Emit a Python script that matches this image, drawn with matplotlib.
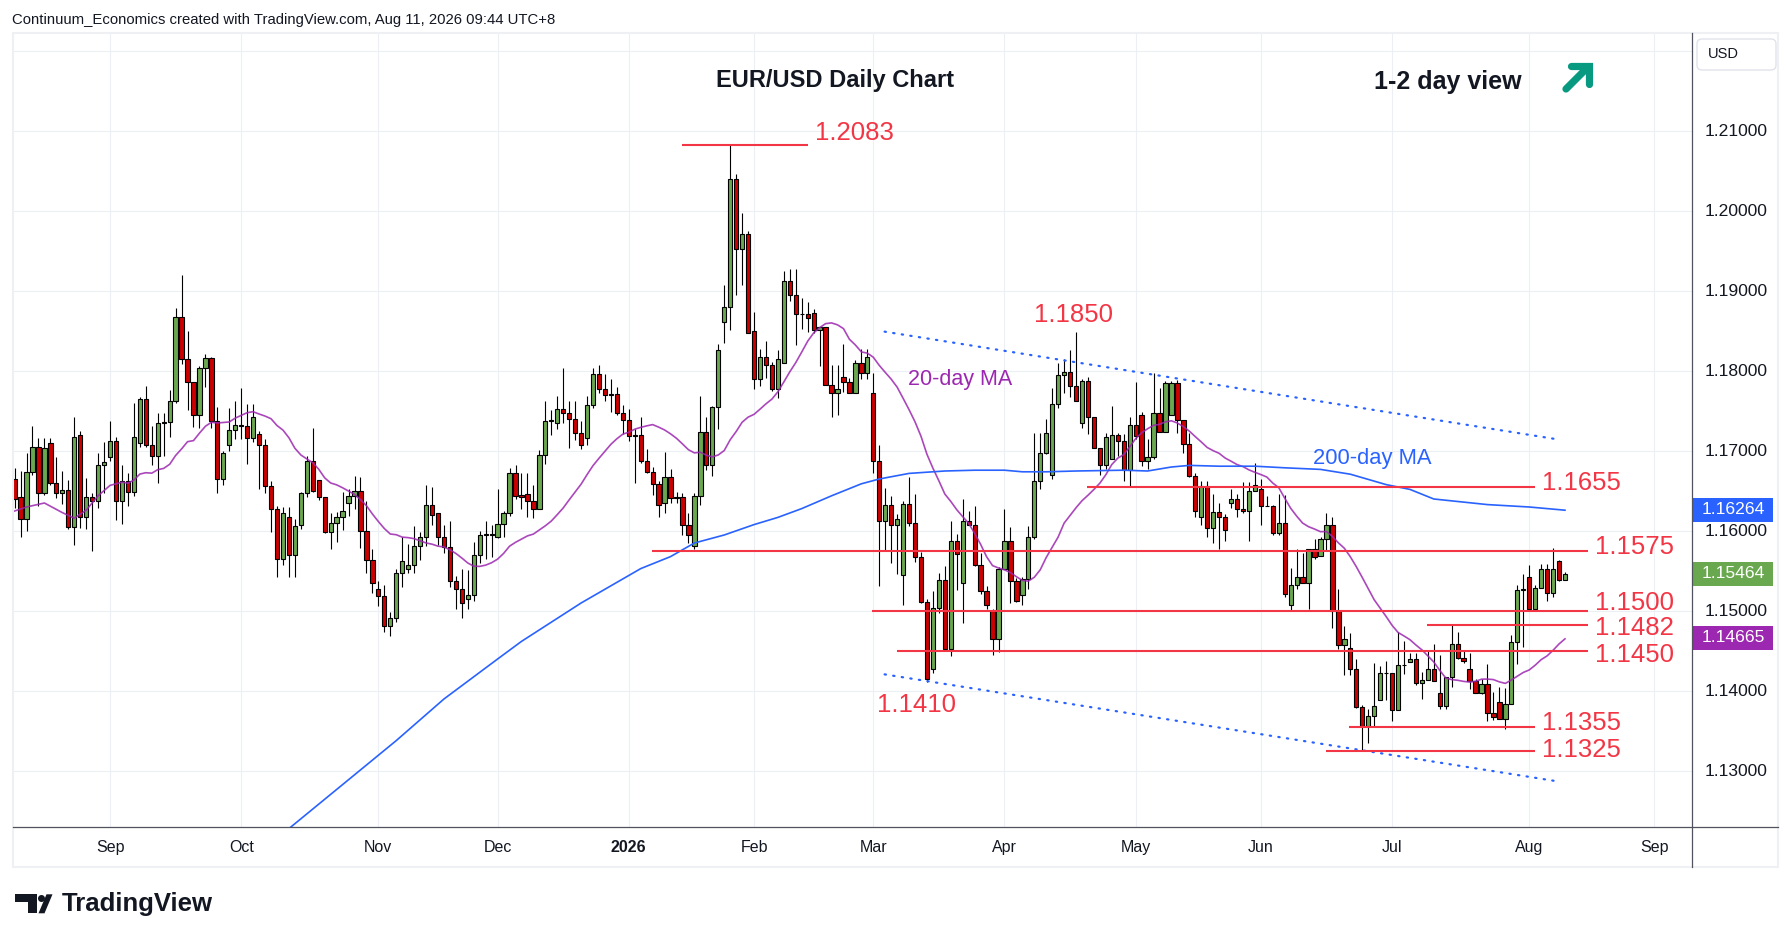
import numpy as np
import pandas as pd
import matplotlib
matplotlib.use('Agg')
import matplotlib.pyplot as plt
import matplotlib.transforms as mtransforms
from matplotlib.patches import Rectangle, FancyBboxPatch, Polygon, Circle
from matplotlib.lines import Line2D

plt.rcParams['font.family'] = ['Liberation Sans', 'DejaVu Sans']

# ---------------- data ----------------
first_day = '2025-08-08'
fx_holidays = ['2025-12-25', '2026-01-01']

opens = [
    1.1665, 1.1642, 1.1615, 1.1674, 1.1705, 1.1648, 1.1710, 1.1660, 1.1647, 1.1651,
    1.1605, 1.1720, 1.1618, 1.1643, 1.1638, 1.1683, 1.1693, 1.1712, 1.1637, 1.1662,
    1.1649, 1.1710, 1.1765, 1.1708, 1.1694, 1.1735, 1.1736, 1.1762, 1.1868, 1.1815,
    1.1786, 1.1745, 1.1804, 1.1816, 1.1737, 1.1665, 1.1707, 1.1726, 1.1733, 1.1731,
    1.1716, 1.1721, 1.1708, 1.1656, 1.1628, 1.1565, 1.1618, 1.1570, 1.1607, 1.1647,
    1.1687, 1.1664, 1.1642, 1.1599, 1.1610, 1.1618, 1.1635, 1.1644, 1.1650, 1.1600,
    1.1564, 1.1528, 1.1519, 1.1481, 1.1491, 1.1547, 1.1553, 1.1557, 1.1581, 1.1593,
    1.1633, 1.1623, 1.1592, 1.1580, 1.1537, 1.1528, 1.1515, 1.1520, 1.1570, 1.1595,
    1.1596, 1.1592, 1.1609, 1.1623, 1.1672, 1.1645, 1.1646, 1.1637, 1.1627, 1.1695,
    1.1738, 1.1735, 1.1753, 1.1747, 1.1740, 1.1722, 1.1716, 1.1758, 1.1796, 1.1778,
    1.1770, 1.1771, 1.1747, 1.1739, 1.1719, 1.1720, 1.1688, 1.1674, 1.1659, 1.1635,
    1.1667, 1.1643, 1.1643, 1.1607, 1.1581, 1.1644, 1.1724, 1.1682, 1.1755, 1.1861,
    1.1880, 1.2040, 1.1953, 1.1971, 1.1850, 1.1790, 1.1817, 1.1808, 1.1777, 1.1810,
    1.1913, 1.1895, 1.1871, 1.1871, 1.1873, 1.1851, 1.1855, 1.1783, 1.1773, 1.1793,
    1.1786, 1.1773, 1.1810, 1.1798, 1.1772, 1.1688, 1.1613, 1.1633, 1.1608, 1.1545,
    1.1634, 1.1610, 1.1567, 1.1511, 1.1427, 1.1504, 1.1539, 1.1452, 1.1588, 1.1535,
    1.1612, 1.1607, 1.1558, 1.1525, 1.1500, 1.1465, 1.1553, 1.1588, 1.1538, 1.1520,
    1.1540, 1.1593, 1.1663, 1.1698, 1.1670, 1.1759, 1.1795, 1.1799, 1.1781, 1.1735,
    1.1788, 1.1743, 1.1704, 1.1683, 1.1690, 1.1720, 1.1712, 1.1676, 1.1732, 1.1745,
    1.1687, 1.1693, 1.1748, 1.1724, 1.1745, 1.1785, 1.1739, 1.1709, 1.1669, 1.1618,
    1.1656, 1.1604, 1.1624, 1.1617, 1.1635, 1.1640, 1.1628, 1.1625, 1.1650, 1.1653,
    1.1631, 1.1631, 1.1597, 1.1610, 1.1508, 1.1533, 1.1543, 1.1535, 1.1578, 1.1569,
    1.1590, 1.1608, 1.1500, 1.1458, 1.1454, 1.1428, 1.1380, 1.1356, 1.1369, 1.1389,
    1.1422, 1.1422, 1.1376, 1.1432, 1.1436, 1.1440, 1.1410, 1.1414, 1.1428, 1.1398,
    1.1381, 1.1418, 1.1459, 1.1441, 1.1427, 1.1413, 1.1397, 1.1409, 1.1372, 1.1386,
    1.1365, 1.1384, 1.1461, 1.1526, 1.1543, 1.1503, 1.1529, 1.1552, 1.1523, 1.1562,
    1.1539]

highs = [
    1.1679, 1.1675, 1.1698, 1.1731, 1.1716, 1.1716, 1.1716, 1.1693, 1.1675, 1.1664,
    1.1743, 1.1725, 1.1666, 1.1648, 1.1698, 1.1711, 1.1737, 1.1718, 1.1682, 1.1673,
    1.1760, 1.1767, 1.1781, 1.1731, 1.1747, 1.1748, 1.1776, 1.1879, 1.1920, 1.1850,
    1.1786, 1.1806, 1.1821, 1.1818, 1.1755, 1.1700, 1.1754, 1.1762, 1.1779, 1.1759,
    1.1759, 1.1725, 1.1715, 1.1662, 1.1631, 1.1630, 1.1630, 1.1615, 1.1649, 1.1694,
    1.1729, 1.1664, 1.1643, 1.1623, 1.1624, 1.1649, 1.1652, 1.1669, 1.1667, 1.1637,
    1.1577, 1.1537, 1.1533, 1.1499, 1.1552, 1.1592, 1.1584, 1.1606, 1.1599, 1.1657,
    1.1655, 1.1623, 1.1608, 1.1613, 1.1544, 1.1553, 1.1551, 1.1586, 1.1600, 1.1612,
    1.1608, 1.1653, 1.1625, 1.1679, 1.1682, 1.1672, 1.1672, 1.1657, 1.1701, 1.1763,
    1.1751, 1.1769, 1.1804, 1.1763, 1.1763, 1.1738, 1.1769, 1.1804, 1.1807, 1.1796,
    1.1790, 1.1780, 1.1758, 1.1753, 1.1727, 1.1742, 1.1703, 1.1680, 1.1662, 1.1699,
    1.1678, 1.1649, 1.1647, 1.1622, 1.1648, 1.1769, 1.1743, 1.1756, 1.1834, 1.1907,
    1.2084, 1.2046, 1.1997, 1.1975, 1.1874, 1.1828, 1.1837, 1.1811, 1.1826, 1.1925,
    1.1928, 1.1928, 1.1891, 1.1886, 1.1877, 1.1855, 1.1855, 1.1807, 1.1807, 1.1834,
    1.1791, 1.1814, 1.1827, 1.1828, 1.1797, 1.1708, 1.1654, 1.1644, 1.1621, 1.1638,
    1.1668, 1.1646, 1.1574, 1.1515, 1.1525, 1.1547, 1.1556, 1.1612, 1.1596, 1.1640,
    1.1625, 1.1631, 1.1573, 1.1531, 1.1502, 1.1555, 1.1627, 1.1605, 1.1541, 1.1543,
    1.1606, 1.1722, 1.1722, 1.1740, 1.1779, 1.1810, 1.1815, 1.1826, 1.1849, 1.1790,
    1.1792, 1.1743, 1.1704, 1.1722, 1.1756, 1.1722, 1.1721, 1.1743, 1.1786, 1.1749,
    1.1715, 1.1797, 1.1779, 1.1788, 1.1788, 1.1789, 1.1739, 1.1722, 1.1673, 1.1663,
    1.1663, 1.1646, 1.1635, 1.1621, 1.1653, 1.1646, 1.1661, 1.1661, 1.1685, 1.1665,
    1.1644, 1.1633, 1.1646, 1.1645, 1.1554, 1.1578, 1.1573, 1.1578, 1.1590, 1.1592,
    1.1622, 1.1617, 1.1528, 1.1481, 1.1473, 1.1440, 1.1383, 1.1377, 1.1435, 1.1431,
    1.1437, 1.1422, 1.1474, 1.1463, 1.1447, 1.1448, 1.1424, 1.1451, 1.1459, 1.1445,
    1.1418, 1.1482, 1.1474, 1.1451, 1.1448, 1.1415, 1.1415, 1.1434, 1.1399, 1.1405,
    1.1404, 1.1470, 1.1532, 1.1546, 1.1558, 1.1532, 1.1559, 1.1559, 1.1579, 1.1564,
    1.1549]

lows = [
    1.1629, 1.1592, 1.1600, 1.1670, 1.1631, 1.1645, 1.1657, 1.1641, 1.1634, 1.1603,
    1.1583, 1.1604, 1.1603, 1.1575, 1.1629, 1.1648, 1.1687, 1.1614, 1.1609, 1.1631,
    1.1644, 1.1705, 1.1705, 1.1683, 1.1660, 1.1694, 1.1718, 1.1760, 1.1809, 1.1751,
    1.1730, 1.1729, 1.1780, 1.1729, 1.1647, 1.1657, 1.1700, 1.1715, 1.1715, 1.1684,
    1.1711, 1.1652, 1.1648, 1.1599, 1.1542, 1.1557, 1.1542, 1.1543, 1.1602, 1.1642,
    1.1649, 1.1639, 1.1598, 1.1577, 1.1586, 1.1601, 1.1619, 1.1627, 1.1579, 1.1548,
    1.1523, 1.1506, 1.1474, 1.1469, 1.1486, 1.1530, 1.1548, 1.1548, 1.1564, 1.1581,
    1.1608, 1.1583, 1.1573, 1.1530, 1.1503, 1.1491, 1.1503, 1.1512, 1.1560, 1.1565,
    1.1568, 1.1591, 1.1593, 1.1619, 1.1640, 1.1627, 1.1618, 1.1616, 1.1627, 1.1684,
    1.1720, 1.1728, 1.1735, 1.1704, 1.1714, 1.1703, 1.1707, 1.1754, 1.1773, 1.1762,
    1.1749, 1.1745, 1.1721, 1.1713, 1.1660, 1.1685, 1.1673, 1.1645, 1.1618, 1.1622,
    1.1635, 1.1635, 1.1595, 1.1585, 1.1577, 1.1633, 1.1676, 1.1669, 1.1728, 1.1835,
    1.1851, 1.1895, 1.1907, 1.1847, 1.1778, 1.1781, 1.1791, 1.1775, 1.1766, 1.1810,
    1.1887, 1.1833, 1.1853, 1.1849, 1.1847, 1.1806, 1.1783, 1.1743, 1.1745, 1.1774,
    1.1773, 1.1773, 1.1790, 1.1790, 1.1673, 1.1531, 1.1575, 1.1560, 1.1546, 1.1508,
    1.1606, 1.1561, 1.1510, 1.1411, 1.1422, 1.1498, 1.1450, 1.1444, 1.1526, 1.1485,
    1.1607, 1.1556, 1.1521, 1.1502, 1.1445, 1.1449, 1.1553, 1.1510, 1.1511, 1.1508,
    1.1527, 1.1590, 1.1652, 1.1696, 1.1665, 1.1754, 1.1773, 1.1767, 1.1763, 1.1729,
    1.1721, 1.1704, 1.1670, 1.1677, 1.1690, 1.1694, 1.1663, 1.1656, 1.1715, 1.1681,
    1.1678, 1.1690, 1.1724, 1.1724, 1.1745, 1.1723, 1.1697, 1.1667, 1.1618, 1.1608,
    1.1593, 1.1585, 1.1577, 1.1588, 1.1629, 1.1618, 1.1623, 1.1588, 1.1650, 1.1608,
    1.1631, 1.1595, 1.1595, 1.1518, 1.1500, 1.1528, 1.1535, 1.1503, 1.1565, 1.1569,
    1.1575, 1.1479, 1.1452, 1.1420, 1.1420, 1.1379, 1.1326, 1.1335, 1.1356, 1.1389,
    1.1389, 1.1363, 1.1376, 1.1421, 1.1436, 1.1407, 1.1390, 1.1414, 1.1412, 1.1377,
    1.1378, 1.1405, 1.1440, 1.1435, 1.1403, 1.1397, 1.1396, 1.1363, 1.1364, 1.1365,
    1.1353, 1.1384, 1.1434, 1.1455, 1.1500, 1.1501, 1.1529, 1.1513, 1.1518, 1.1538,
    1.1539]

closes = [
    1.1640, 1.1615, 1.1674, 1.1705, 1.1648, 1.1704, 1.1660, 1.1647, 1.1651, 1.1605,
    1.1718, 1.1618, 1.1643, 1.1638, 1.1683, 1.1686, 1.1712, 1.1637, 1.1662, 1.1649,
    1.1718, 1.1765, 1.1708, 1.1694, 1.1735, 1.1736, 1.1762, 1.1868, 1.1815, 1.1786,
    1.1745, 1.1804, 1.1816, 1.1737, 1.1665, 1.1698, 1.1726, 1.1733, 1.1731, 1.1716,
    1.1742, 1.1708, 1.1656, 1.1628, 1.1565, 1.1622, 1.1570, 1.1606, 1.1647, 1.1687,
    1.1650, 1.1642, 1.1599, 1.1610, 1.1618, 1.1625, 1.1644, 1.1650, 1.1600, 1.1564,
    1.1535, 1.1519, 1.1481, 1.1491, 1.1547, 1.1562, 1.1557, 1.1581, 1.1593, 1.1633,
    1.1620, 1.1592, 1.1580, 1.1537, 1.1528, 1.1510, 1.1520, 1.1570, 1.1595, 1.1596,
    1.1595, 1.1609, 1.1623, 1.1672, 1.1644, 1.1642, 1.1637, 1.1627, 1.1695, 1.1738,
    1.1738, 1.1753, 1.1747, 1.1740, 1.1723, 1.1707, 1.1758, 1.1796, 1.1778, 1.1770,
    1.1771, 1.1747, 1.1739, 1.1719, 1.1720, 1.1688, 1.1674, 1.1659, 1.1632, 1.1667,
    1.1641, 1.1641, 1.1607, 1.1595, 1.1644, 1.1724, 1.1682, 1.1755, 1.1826, 1.1880,
    1.2040, 1.1953, 1.1971, 1.1847, 1.1790, 1.1817, 1.1808, 1.1777, 1.1815, 1.1913,
    1.1895, 1.1871, 1.1871, 1.1866, 1.1851, 1.1855, 1.1783, 1.1773, 1.1778, 1.1786,
    1.1773, 1.1810, 1.1798, 1.1817, 1.1688, 1.1613, 1.1633, 1.1608, 1.1615, 1.1634,
    1.1610, 1.1567, 1.1511, 1.1415, 1.1504, 1.1539, 1.1452, 1.1588, 1.1571, 1.1612,
    1.1607, 1.1558, 1.1525, 1.1508, 1.1465, 1.1553, 1.1588, 1.1538, 1.1513, 1.1540,
    1.1593, 1.1663, 1.1698, 1.1723, 1.1759, 1.1795, 1.1799, 1.1781, 1.1763, 1.1788,
    1.1743, 1.1704, 1.1683, 1.1718, 1.1720, 1.1712, 1.1676, 1.1732, 1.1719, 1.1687,
    1.1693, 1.1748, 1.1724, 1.1785, 1.1785, 1.1739, 1.1709, 1.1669, 1.1625, 1.1656,
    1.1604, 1.1624, 1.1617, 1.1601, 1.1640, 1.1628, 1.1625, 1.1650, 1.1658, 1.1631,
    1.1631, 1.1597, 1.1610, 1.1521, 1.1533, 1.1543, 1.1535, 1.1578, 1.1567, 1.1590,
    1.1608, 1.1500, 1.1458, 1.1465, 1.1428, 1.1380, 1.1356, 1.1369, 1.1381, 1.1422,
    1.1422, 1.1376, 1.1432, 1.1433, 1.1440, 1.1410, 1.1414, 1.1428, 1.1413, 1.1381,
    1.1418, 1.1459, 1.1441, 1.1437, 1.1413, 1.1397, 1.1409, 1.1372, 1.1368, 1.1365,
    1.1384, 1.1461, 1.1526, 1.1527, 1.1503, 1.1529, 1.1552, 1.1523, 1.1553, 1.1539,
    1.1546]

# 20-day MA before 20 bars exist, bar number -> value
ma20_head_bar = [0, 2, 5, 8, 10, 12, 14, 16, 18]
ma20_head_val = [1.1625, 1.1630, 1.1635, 1.1623, 1.1616, 1.1626, 1.1644, 1.1657, 1.1661]

# 200-day MA
ma200_bar = [46, 55, 64, 72, 81, 85, 90, 95, 105, 110, 114, 119, 124, 128, 132, 137,
             142, 145, 150, 156, 161, 166, 169, 173, 178, 186, 190, 194, 197, 202,
             208, 213, 219, 224, 230, 234, 238, 247, 254, 260]
ma200_val = [1.1228, 1.1283, 1.1338, 1.1390, 1.1440, 1.1462, 1.1486, 1.1510, 1.1553,
             1.1568, 1.1585, 1.1595, 1.1608, 1.1617, 1.1628, 1.1644, 1.1659, 1.1665,
             1.1672, 1.1675, 1.1676, 1.1676, 1.1674, 1.1674, 1.1675, 1.1676, 1.1675,
             1.1680, 1.1682, 1.1681, 1.1681, 1.1679, 1.1677, 1.1671, 1.1658, 1.1652,
             1.1640, 1.1633, 1.1630, 1.1626]

levels = [1.2083, 1.1655, 1.1575, 1.1500, 1.1482, 1.1450, 1.1355, 1.1325]
swing_labels = ['1.2083', '1.1850', '1.1655', '1.1575', '1.1500', '1.1482', '1.1450',
                '1.1410', '1.1355', '1.1325']
last_close = 1.15464
ma20_last = 1.14665
ma200_last = 1.16264

# ---------------- layout ----------------
W, H = 1792, 942
RED = '#f23645'
INK = '#131722'

# start / end bar of each level line
level_span = [(111.9, 133.0), (179.8, 255.0), (106.9, 263.9), (143.8, 263.9),
              (236.8, 263.9), (147.9, 263.9), (223.8, 255.0), (219.9, 255.0)]
# anchor (bar, price) of each label
label_pos = [(134.2, 1.2098), (171.0, 1.1870), (256.1, 1.1660), (265.0, 1.1580),
             (265.0, 1.1510), (265.0, 1.1479), (265.0, 1.1445), (144.7, 1.1383),
             (256.1, 1.1360), (256.1, 1.1326)]
channel_top = ([145.9, 258.8], [1.18492, 1.17145])
channel_bot = ([145.9, 258.8], [1.14208, 1.12870])

fig = plt.figure(figsize=(W / 100, H / 100), dpi=100)
fig.patch.set_facecolor('white')
ax = fig.add_axes([13 / W, 1 - 827 / H, (1692 - 13) / W, (827 - 33) / H])
ax.set_xlim(-0.27, 281.3)
ax.set_ylim(1.1230, 1.22225)
for s in ax.spines.values():
    s.set_visible(False)

# trading days (FX: weekdays minus Christmas / New Year)
dates = pd.bdate_range(first_day, '2026-09-30')
dates = dates[~dates.isin(pd.to_datetime(fx_holidays))]
month_pos = [i for i in range(1, len(dates))
             if dates[i].month != dates[i - 1].month and i < 281]
month_lab = [str(dates[i].year) if dates[i].month == 1 else dates[i].strftime('%b')
             for i in month_pos]

ax.set_xticks(month_pos)
ax.set_yticks(np.round(np.arange(1.13, 1.2201, 0.01), 2))
ax.tick_params(length=0, labelbottom=False, labelleft=False)
ax.grid(True, color='#eceff4', lw=0.8)
ax.set_axisbelow(True)

# candles
o = np.array(opens)
h = np.array(highs)
l = np.array(lows)
c = np.array(closes)
x = np.arange(len(c))
up = c >= o
bot = np.minimum(o, c)
hgt = np.maximum(np.abs(c - o), 0.00005)
ax.vlines(x, l, h, color='black', lw=0.8, zorder=3)
ax.bar(x[up], hgt[up], width=0.72, bottom=bot[up], color='#6aa84f',
       edgecolor='black', linewidth=0.8, zorder=4)
ax.bar(x[~up], hgt[~up], width=0.72, bottom=bot[~up], color='#cc0000',
       edgecolor='black', linewidth=0.8, zorder=4)

# moving averages
ma20 = pd.Series(c).rolling(20).mean().to_numpy()
ma20_x = np.r_[ma20_head_bar, x[19:]]
ma20_y = np.r_[ma20_head_val, ma20[19:]]
ax.plot(ma20_x, ma20_y, color='#9c27b0', lw=1.2, alpha=0.85, zorder=5)
ax.plot(ma200_bar, ma200_val, color='#2962ff', lw=1.2, zorder=5)

# channel
for xs, ys in (channel_top, channel_bot):
    ax.plot(xs, ys, color='#2962ff', lw=1.6, ls=(0, (0.6, 3.3)),
            dash_capstyle='round', zorder=5)

# levels and labels
for lev, (a, b) in zip(levels, level_span):
    ax.hlines(lev, a, b, color=RED, lw=1.5, zorder=6)
for txt, (bx, py) in zip(swing_labels, label_pos):
    ax.text(bx, py, txt, color=RED, fontsize=18.5, ha='left', va='center', zorder=7)

ax.text(149.8, 1.17888, '20-day MA', color='#9c27b0', fontsize=15.5, va='center')
ax.text(217.8, 1.16908, '200-day MA', color='#2962ff', fontsize=15.8, va='center')

# price scale
tr_y = mtransforms.blended_transform_factory(ax.transAxes, ax.transData)
for p in np.round(np.arange(1.13, 1.2101, 0.01), 2):
    ax.text(1.0077, p, f'{p:.5f}', transform=tr_y, ha='left', va='center',
            fontsize=12.6, color=INK, clip_on=False)
for val, col in ((ma200_last, '#2962ff'), (last_close, '#6aa84f'), (ma20_last, '#9c27b0')):
    ax.add_patch(Rectangle((1.0004, val - 0.0015), 0.0479, 0.003, transform=tr_y,
                           fc=col, ec='none', clip_on=False, zorder=8))
    ax.text(1.0244, val, f'{val:.5f}', transform=tr_y, ha='center', va='center',
            fontsize=12.6, color='white', clip_on=False, zorder=9)

# time scale
tr_x = mtransforms.blended_transform_factory(ax.transData, ax.transAxes)
for pos, lab in zip(month_pos, month_lab):
    ax.text(pos, -0.0252, lab, transform=tr_x, ha='center', va='center',
            fontsize=11.5, color=INK, clip_on=False,
            weight='bold' if lab.isdigit() else 'normal')

# panel frame and axis lines (pixel coordinates)
ident = mtransforms.IdentityTransform()


def px(xp, yp):
    return xp, H - yp


fig.add_artist(Rectangle(px(12.5, 866.5), 1778 - 12.5, 866.5 - 33, transform=ident,
                         fill=False, ec='#eef0f3', lw=1.5))
fig.add_artist(Line2D([13, 1778], [H - 827, H - 827], transform=ident,
                      color='#50535e', lw=0.9))
fig.add_artist(Line2D([1692, 1692], [H - 33, H - 866.5], transform=ident,
                      color='#50535e', lw=0.9))
fig.add_artist(FancyBboxPatch(px(1697, 70), 79, 31, boxstyle='round,pad=0,rounding_size=5',
                              transform=ident, fc='white', ec='#e0e3eb', lw=1))
fig.text(1708 / W, 1 - 54 / H, 'USD', fontsize=10.5, va='center', color=INK)

# header / titles
fig.text(11.7 / W, 1 - 20 / H,
         'Continuum_Economics created with TradingView.com, Aug 11, 2026 09:44 UTC+8',
         fontsize=10.7, va='center', color=INK)
fig.text(835 / W, 1 - 80 / H, 'EUR/USD Daily Chart', fontsize=17, weight='bold',
         ha='center', va='center', color=INK)
fig.text(1522 / W, 1 - 82 / H, '1-2 day view', fontsize=18, weight='bold',
         ha='right', va='center', color=INK)

# up arrow
arrow_col = '#089981'
fig.add_artist(Line2D([1566, 1588], [H - 89, H - 67], transform=ident, color=arrow_col,
                      lw=5.2, solid_capstyle='round'))
fig.add_artist(Line2D([1571, 1589, 1589], [H - 66, H - 66, H - 84], transform=ident,
                      color=arrow_col, lw=5.2, solid_capstyle='round',
                      solid_joinstyle='miter'))

# TradingView logo
for poly in ([(15, 894.3), (36.7, 894.3), (36.7, 901.7), (15, 901.7)],
             [(28.3, 894.3), (36.7, 894.3), (36.7, 913.3), (28.3, 913.3)],
             [(46.5, 894.3), (52.5, 894.3), (44.5, 913.3), (38.5, 913.3)]):
    fig.add_artist(Polygon([px(a, b) for a, b in poly], closed=True, transform=ident,
                           fc=INK, ec='none'))
fig.add_artist(Circle(px(41.5, 898.5), 3.5, transform=ident, fc=INK, ec='none'))
fig.text(61.5 / W, 1 - 904 / H, 'TradingView', fontsize=18.5, weight='bold',
         va='center', color=INK)

fig.savefig('out.png', dpi=100)
